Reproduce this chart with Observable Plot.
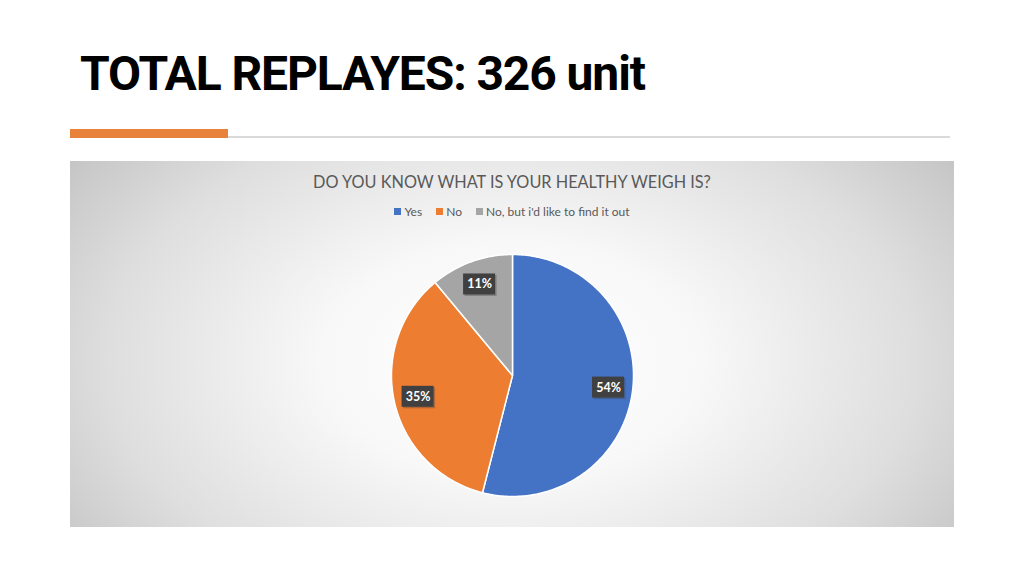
<!DOCTYPE html>
<html>
<head>
<meta charset="utf-8">
<script src="https://cdn.jsdelivr.net/npm/d3@7"></script>
<script src="https://cdn.jsdelivr.net/npm/@observablehq/plot@0.6"></script>
<style>
  html, body { margin: 0; padding: 0; background: #fff; width: 1024px; height: 576px; overflow: hidden; }
  #heading { position: absolute; left: 80px; top: 45px; font-family: Roboto, sans-serif; font-weight: 700; font-size: 48px; letter-spacing: -1.1px; color: #000; white-space: nowrap; }
  #accent { position: absolute; left: 70px; top: 129px; width: 158px; height: 9px; background: #E8823A; }
  #rule { position: absolute; left: 228px; top: 136px; width: 722px; height: 2px; background: #dadada; }
  #panel { position: absolute; left: 70px; top: 161px; width: 884px; height: 366px;
    background: radial-gradient(ellipse 540px 340px at 442px 200px, #ffffff 0%, #f8f8f8 35%, #dedede 75%, #c6c6c6 100%); }
  #ctitle { position: absolute; left: 0; width: 884px; top: 11px; text-align: center; font-family: Lato, "Open Sans", sans-serif; font-size: 16.3px; color: #595959; }
  #legend { position: absolute; left: 0; width: 884px; top: 43px; display: flex; justify-content: center; gap: 14px; font-family: Lato, "Open Sans", sans-serif; font-size: 12px; color: #595959; }
  #legend .item { display: flex; align-items: center; gap: 3px; }
  #legend .sw { width: 7px; height: 7px; display: inline-block; }
  #plot { position: absolute; left: 0; top: 0; }
  #plot svg { background: transparent; }
</style>
</head>
<body>
<div id="heading">TOTAL REPLAYES: 326 unit</div>
<div id="accent"></div>
<div id="rule"></div>
<div id="panel">
  <div id="plot"></div>
  <div id="ctitle">DO YOU KNOW WHAT IS YOUR HEALTHY WEIGH IS?</div>
  <div id="legend"></div>
</div>
<script>
const categories = ["Yes", "No", "No, but i'd like to find it out"];
const values = [176, 114, 36];
const colors = ["#4472C4", "#ED7D31", "#A5A5A5"];

const total = d3.sum(values);
const pie = d3.pie().sort(null).value(d => d.value)(categories.map((c, i) => ({cat: c, value: values[i]})));

// sample arc outlines (unit radius, angle clockwise from 12 o'clock)
const pts = [];
for (const a of pie) {
  pts.push({cat: a.data.cat, x: 0, y: 0});
  const n = Math.max(8, Math.ceil((a.endAngle - a.startAngle) * 60));
  for (let k = 0; k <= n; k++) {
    const t = a.startAngle + (a.endAngle - a.startAngle) * k / n;
    pts.push({cat: a.data.cat, x: Math.sin(t), y: Math.cos(t)});
  }
}
const labels = pie.map(a => {
  const m = (a.startAngle + a.endAngle) / 2;
  return {cat: a.data.cat, x: 0.8 * Math.sin(m), y: 0.8 * Math.cos(m), text: Math.round(a.data.value / total * 100) + "%"};
});

const W = 884, H = 366, R = 121, CX = 442, CY = 214;
const chart = Plot.plot({
  width: W, height: H,
  margin: 0,
  x: {domain: [-CX / R, (W - CX) / R], axis: null},
  y: {domain: [-(H - CY) / R, CY / R], axis: null},
  color: {domain: categories, range: colors},
  style: {background: "transparent", overflow: "visible"},
  marks: [
    Plot.line(pts, {x: "x", y: "y", z: "cat", fill: "cat", stroke: "white", strokeWidth: 1.5, curve: "linear-closed", strokeLinejoin: "round"}),
    Plot.rect(labels, {x1: "x", x2: "x", y1: "y", y2: "y", fill: "#404040", insetLeft: -16, insetRight: -16, insetTop: -10.5, insetBottom: -10.5, dx: 1.5, dy: 1.5, fillOpacity: 0.35}),
    Plot.rect(labels, {x1: "x", x2: "x", y1: "y", y2: "y", fill: "#404040", insetLeft: -16, insetRight: -16, insetTop: -10.5, insetBottom: -10.5}),
    Plot.text(labels, {x: "x", y: "y", text: "text", fill: "white", fontSize: 12.5, fontWeight: 700, fontFamily: "Lato, 'Open Sans', sans-serif"})
  ]
});
document.getElementById("plot").appendChild(chart);

const leg = document.getElementById("legend");
categories.forEach((c, i) => {
  const it = document.createElement("div");
  it.className = "item";
  it.innerHTML = `<span class="sw" style="background:${colors[i]}"></span><span></span>`;
  it.lastChild.textContent = c;
  leg.appendChild(it);
});
</script>
</body>
</html>
